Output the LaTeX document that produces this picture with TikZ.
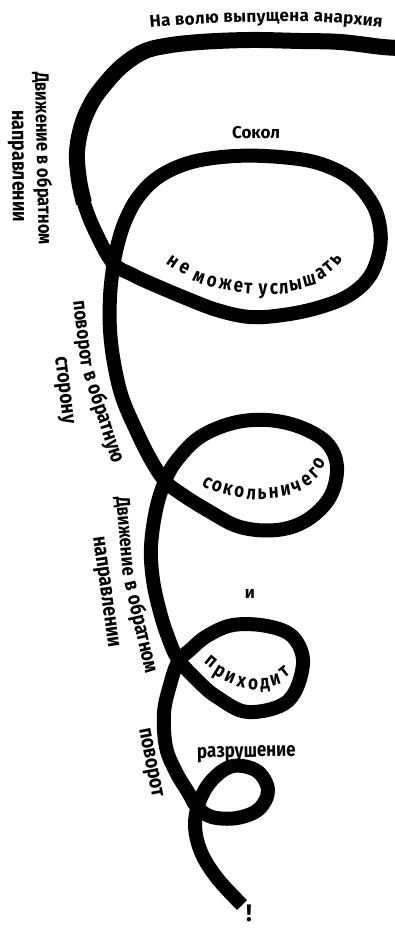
\documentclass[tikz,border=0pt]{standalone}
\usepackage{graphicx}
\usepackage{fontspec}
\setmainfont{Fira Sans}
\usetikzlibrary{decorations.text}
\newcommand\fsTop{\bfseries\fontsize{17}{17}\selectfont}
\newcommand\nar[1]{\scalebox{0.85}[1]{#1}}
\tikzset{
  rope/.style={line width=14pt, black, line join=round, line cap=butt},
  ropetop/.style={line width=16pt, black, line join=round, line cap=butt},
  curvetext/.style={decorate, decoration={text along path, text align={fit to path}, text={#1}}},
  lab/.style={inner sep=0pt, font=\bfseries\fontsize{17}{17}\selectfont},
  vlab/.style={inner sep=0pt, anchor=base west, font=\bfseries\fontsize{#1}{#1}\selectfont},
  loopch/.style={inner sep=0pt, font=\bfseries\fontsize{#1}{#1}\selectfont, text height=1ex, text depth=0pt},
}
\begin{document}
\begin{tikzpicture}[x=1pt,y=-1pt]
\useasboundingbox (0,0) rectangle (395,928);
\fill[white] (0,0) rectangle (395,928);
\begin{scope}
\clip (0,0) rectangle (395,928);
\draw[rope] plot[smooth, tension=0.6] coordinates {
(402,48) (383,47) (340,42) (300,41) (250,40) (200,42) (165,46) (143,52) (122,66) (105,84) (92,102) (82,125) (77,152) (79,180) (85,206) (96,233) (113,263) (133,275) (150,283) (183,297) (217,310) (250,317) (283,315) (317,308) (348,296) (370,276) (380,248) (379,222) (370,200) (350,178) (318,163) (280,157) (235,156) (192,162) (160,176) (139,196) (126,219) (118,243) (113,268) (110,297) (110,330) (114,363) (122,397) (136,430) (151,460) (165,481) (180,493) (207,510) (240,527) (277,530) (307,520) (330,497) (337,467) (327,443) (300,427) (267,420) (233,423) (200,437) (177,460) (165,481) (156,510) (151,547) (153,580) (160,612) (168,637) (178,659) (198,681) (217,697) (248,712) (288,701) (303,664) (293,637) (267,626) (233,625) (207,636) (190,650) (178,662) (170,685) (164,713) (166,747) (176,772) (188,792) (197,807) (212,817) (237,818) (259,809) (268,790) (257,771) (233,766) (213,779) (200,800) (195,825) (201,852) (217,878) (242,905)};
\draw[ropetop] plot[smooth, tension=0.6] coordinates {
(402,48) (383,47) (340,42) (300,41) (250,40) (200,42) (165,46) (143,52) (122,66) (105,84) (92,102) (82,125) (77,152) (79,180) (84,203)};
\end{scope}
% texts
\path[curvetext={|\fsTop|На волю выпущена анархия}] plot[smooth] coordinates {(150,28) (200,24) (260,22) (320,22) (382,27)};
\node[vlab=19.5, rotate=-88.7] (dv1) at (35,72) {\nar{Движение в обратном}};
\node[vlab=21, rotate=-89.5] (np1) at (12,110) {\nar{направлении}};
\node[lab] (sokol) at (256,133) {Сокол};
\foreach \ch/\x/\y/\a [count=\i] in {н/171/264/-35, е/183/271/-30, м/198/280/-22, о/211/284/-15, ж/225/287/-10, е/238/289/-7, т/248/291/-4, у/263/292/0, с/274/292/2, л/284/291/5, ы/296/288/10, ш/310/283/15, а/322/276/30, т/330/269/40, ь/338/261/50}
  \node[loopch=20, rotate=\a] (ne\i) at (\x,\y) {\nar{\ch}};
\node[vlab=20, rotate=-83] (pv1) at (73,301) {\nar{поворот}};
\node[vlab=20.5, rotate=-72] (pv2) at (pv1.base east) {\hspace*{0.3em}\nar{в обратную}};
\node[vlab=21, rotate=-83] (st) at (55,357) {\nar{сторону}};
\foreach \ch/\x/\y/\a [count=\i] in {с/206/485/-30, о/216/489/-22, к/227/492/-15, о/239/495/-8, л/251/497/-3, ь/262/497/0, н/274/496/4, и/286/493/10, ч/297/489/20, е/308/483/33, г/316/475/45, о/321/465/58}
  \node[loopch=20, rotate=\a] (so\i) at (\x,\y) {\nar{\ch}};
\node[vlab=19.5, rotate=-85] (dv2) at (116,497) {\nar{Движение}};
\node[vlab=20.5, rotate=-77] (dv3) at (dv2.base east) {\hspace*{0.3em}\nar{в обратном}};
\node[vlab=21, rotate=-82] (np2) at (93,537) {\nar{направлении}};
\node[lab] (i) at (250,594) {и};
\foreach \ch/\x/\y/\a [count=\i] in {п/209/664/-40, р/218/674/-32, и/229/680/-22, х/241/685/-12, о/253/687/-3, д/265/686/6, и/276/682/18, т/286/674/38}
  \node[loopch=20, rotate=\a] (pr\i) at (\x,\y) {\nar{\ch}};
\node[vlab=21, rotate=-79] (pv3) at (139,729) {\nar{поворот}};
\node[vlab=20, rotate=1] (razr) at (197,758) {\nar{разрушение}};
\node[inner sep=0pt, anchor=base, text depth=0pt, font=\bfseries\fontsize{24}{24}\selectfont] (excl) at (249,921) {!};
\end{tikzpicture}
\end{document}
